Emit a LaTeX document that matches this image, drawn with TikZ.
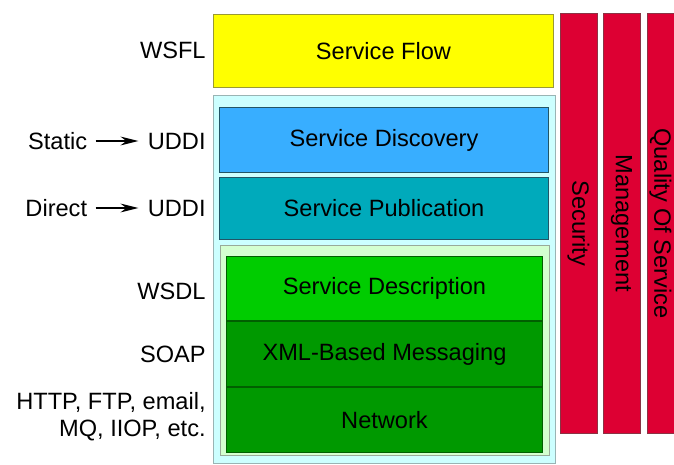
\documentclass[tikz,border=0pt]{standalone}
\usepackage{fontspec}
\setmainfont{Liberation Sans}
\usetikzlibrary{positioning}
\usetikzlibrary{arrows.meta}

\definecolor{flowyellow}{HTML}{FFFF00}
\definecolor{flowedge}{HTML}{9A9A33}
\definecolor{palecyan}{HTML}{CCFFFF}
\definecolor{paleedge}{HTML}{99B4B4}
\definecolor{discblue}{HTML}{38AEFF}
\definecolor{pubteal}{HTML}{00AABB}
\definecolor{bluedge}{HTML}{225566}
\definecolor{palegreen}{HTML}{D4FFD0}
\definecolor{greenedge}{HTML}{99AA99}
\definecolor{descgreen}{HTML}{00CC00}
\definecolor{msggreen}{HTML}{009900}
\definecolor{darkgreen}{HTML}{005F00}
\definecolor{barred}{HTML}{DD0033}
\definecolor{baredge}{HTML}{8A3344}

\tikzset{
  layer/.style={draw=#1, line width=0.5pt, anchor=north west, inner sep=0pt},
  panel/.style={draw=#1, line width=0.6pt, anchor=north west, inner sep=0pt},
  bar/.style={draw=baredge, fill=barred, line width=0.5pt, rotate=-90,
    inner sep=0pt, minimum width=209.5pt},
  lbl/.style={inner sep=0pt, anchor=east},
  pointer/.style={-{Stealth[length=9pt,width=4.4pt]}, line width=0.85pt}
}

\begin{document}
\begin{tikzpicture}[x=0.5pt,y=-0.5pt,font=\fontsize{11.8pt}{13.5pt}\selectfont]
\path[use as bounding box, fill=white] (0,0) rectangle (674,465);

% stack of layers
\node[layer=flowedge, fill=flowyellow, minimum width=170pt, minimum height=36.5pt] (flow) at (213,14) {Service Flow};
\node[panel=paleedge, fill=palecyan, minimum width=171pt, minimum height=184pt] (upper) at (213,95) {};
\node[layer=bluedge, fill=discblue, minimum width=164.5pt, minimum height=32.5pt] (disc) at (219,107) {Service Discovery};
\node[layer=bluedge, fill=pubteal, minimum width=164.5pt, minimum height=31pt, below=2pt of disc] (pub) {Service Publication};
\node[panel=greenedge, fill=palegreen, minimum width=164.5pt, minimum height=105pt] (lower) at (220,245) {};
\node[layer=darkgreen, fill=descgreen, minimum width=158pt, minimum height=32pt] (desc) at (226,256) {Service Description};
\node[layer=darkgreen, fill=msggreen, minimum width=158pt, minimum height=32.5pt, below=0pt of desc] (xml) {XML-Based Messaging};
\node[layer=darkgreen, fill=msggreen, minimum width=158pt, minimum height=32.5pt, below=0pt of xml] (net) {Network};

% vertical bars
\node[bar, minimum height=18.5pt] (sec) at (578.5,223.5) {Security};
\node[bar, minimum height=18.5pt] (mgmt) at (621.5,223.5) {Management};
\node[bar, minimum height=13.5pt] (qos) at (660.5,223.5) {Quality Of Service};

% labels on the left
\node[lbl] (wsfl) at (206,50) {WSFL};
\node[lbl] (uddiA) at (206,141) {UDDI};
\node[lbl, left=30pt of uddiA] (static) {Static};
\node[lbl] (uddiB) at (206,208) {UDDI};
\node[lbl, left=30pt of uddiB] (direct) {Direct};
\node[lbl] (wsdl) at (206,291) {WSDL};
\node[lbl] (soap) at (206,354) {SOAP};
\node[lbl, align=right] (http) at (206,417) {HTTP, FTP, email,\\MQ, IIOP, etc.};

\draw[pointer, shorten <=4pt, shorten >=4.5pt] (static) -- (uddiA);
\draw[pointer, shorten <=4pt, shorten >=4.5pt] (direct) -- (uddiB);
\end{tikzpicture}
\end{document}
